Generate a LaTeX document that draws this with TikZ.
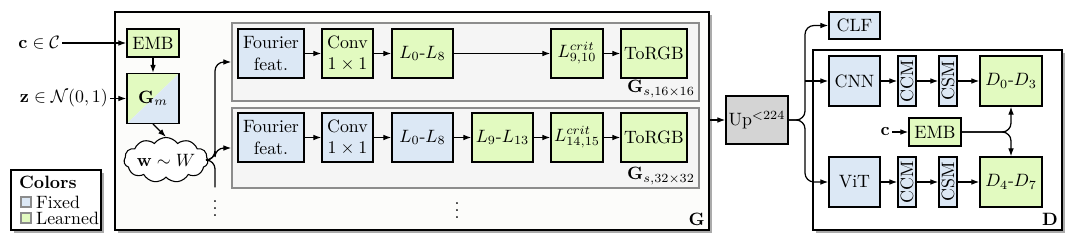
\documentclass[tikz,border=0pt]{standalone}
\usetikzlibrary{arrows.meta,shapes.symbols,shadows,calc}
\definecolor{fixedc}{RGB}{220,232,245}
\definecolor{learnc}{RGB}{226,250,192}
\definecolor{upc}{RGB}{212,212,212}
\definecolor{grpc}{RGB}{245,245,245}
\definecolor{gbg}{RGB}{252,252,250}
\begin{document}
\begin{tikzpicture}[x=0.56pt,y=-0.56pt,
  wh/.style 2 args={minimum width=#1*0.56pt,minimum height=#2*0.56pt},
  blk/.style={draw,line width=0.7pt,inner sep=0pt,align=center},
  fx/.style={blk,fill=fixedc},
  ln/.style={blk,fill=learnc},
  arr/.style={-{Latex[length=4.5pt,width=3.2pt]},line width=0.7pt},
  ln0/.style={line width=0.7pt},
  cont/.style={draw,line width=0.8pt,inner sep=0pt,
    drop shadow={shadow xshift=1.6pt,shadow yshift=-1.6pt,fill=black!60,opacity=0.55}},
  grp/.style={draw=black!45,line width=0.7pt,fill=grpc,inner sep=0pt},
  lbl/.style={inner sep=1pt}]
\useasboundingbox (0,0) rectangle (1072,243);
% ---------- containers
\node[cont,fill=gbg,wh={594}{218}] (Gbox) at (412,121) {};
\node[cont,fill=white,wh={90}{60}] (leg) at (56,200) {};
\node[cont,fill=white,wh={249}{180}] (Dbox) at (937.5,140) {};
\node[grp,wh={467}{78}] (g1) at (465.5,62) {};
\node[grp,wh={467}{80}] (g2) at (465.5,148) {};
% ---------- labels of containers
\node[lbl,anchor=south east] (Glab) at (707,228) {$\mathbf{G}$};
\node[lbl,anchor=south east] (Dlab) at (1060,228) {$\mathbf{D}$};
\node[lbl,anchor=south east] (g1lab) at (697,100) {$\mathbf{G}_{s,16\times16}$};
\node[lbl,anchor=south east] (g2lab) at (697,187) {$\mathbf{G}_{s,32\times32}$};
% ---------- legend
\node[lbl,anchor=west] (legt) at (17,182) {\textbf{Colors}};
\node[draw=black!45,line width=0.6pt,fill=fixedc,wh={10}{10},inner sep=0pt] (lsq1) at (26,202) {};
\node[draw=black!45,line width=0.6pt,fill=learnc,wh={10}{10},inner sep=0pt] (lsq2) at (26,218) {};
\node[lbl,anchor=west] (lt1) at (34,202) {Fixed};
\node[lbl,anchor=west] (lt2) at (34,218) {Learned};
% ---------- mapping network
\node[lbl,anchor=east] (cl) at (62,43) {$\mathbf{c}\in\mathcal{C}$};
\node[lbl,anchor=east] (zl) at (110,98.5) {$\mathbf{z}\in\mathcal{N}(0,1)$};
\node[ln,wh={52}{28}] (emb) at (153,43) {EMB};
\node[blk,wh={52}{50},path picture={
  \fill[learnc] (path picture bounding box.north west) -- (path picture bounding box.north east) -- (path picture bounding box.south west) -- cycle;
  \fill[fixedc] (path picture bounding box.south west) -- (path picture bounding box.north east) -- (path picture bounding box.south east) -- cycle;}] (Gm) at (153,98.5) {$\mathbf{G}_m$};
\node[cloud,draw,line width=0.6pt,fill=white,cloud puffs=11,cloud puff arc=110,aspect=2.4,inner sep=0pt,wh={78}{34}] (w) at (166,160) {$\mathbf{w}\sim W$};
\draw[arr] (cl.east) -- (emb.west);
\draw[arr] (zl.east) -- (Gm.west);
\draw[arr] (emb.south) -- (Gm.north);
\draw[arr] (Gm.south) -- (w.north);
\coordinate (br) at (215,0);
\node[lbl] (dots1) at (215,203) {$\vdots$};
\node[lbl] (dots2) at (457,205) {$\vdots$};
\draw[arr,rounded corners=5pt] (w.east) -- (w.east -| br) |- (g1.west);
\draw[arr,rounded corners=5pt] (w.east) -- (w.east -| br) |- (g2.west);
\draw[ln0,rounded corners=5pt] (w.east) -- (w.east -| br) -- (dots1.north -| br);
% ---------- row 1
\node[fx,wh={66}{49}] (f1) at (271,53.5) {Fourier\\feat.};
\node[ln,wh={51}{49}] (cv1) at (347.5,53.5) {Conv\\$1\times1$};
\node[ln,wh={61}{49}] (l1) at (422.5,53.5) {$L_0$-$L_8$};
\node[ln,wh={52}{49}] (lc1) at (577,53.5) {$L^{crit}_{9,10}$};
\node[ln,wh={66}{49}] (rgb1) at (654,53.5) {ToRGB};
\draw[arr] (f1) -- (cv1);
\draw[arr] (cv1) -- (l1);
\draw[arr] (l1) -- (lc1);
\draw[arr] (lc1) -- (rgb1);
% ---------- row 2
\node[fx,wh={66}{49}] (f2) at (271,137.5) {Fourier\\feat.};
\node[fx,wh={51}{49}] (cv2) at (347.5,137.5) {Conv\\$1\times1$};
\node[fx,wh={61}{49}] (l2) at (422.5,137.5) {$L_0$-$L_8$};
\node[ln,wh={61}{49}] (l2b) at (502.5,137.5) {$L_9$-$L_{13}$};
\node[ln,wh={52}{49}] (lc2) at (577,137.5) {$L^{crit}_{14,15}$};
\node[ln,wh={66}{49}] (rgb2) at (654,137.5) {ToRGB};
\draw[arr] (f2) -- (cv2);
\draw[arr] (cv2) -- (l2);
\draw[arr] (l2) -- (l2b);
\draw[arr] (l2b) -- (lc2);
\draw[arr] (lc2) -- (rgb2);
% ---------- upsampling
\node[blk,fill=upc,wh={62}{48}] (up) at (757,120) {Up$^{<224}$};
\draw[arr] (Gbox.east |- up.west) -- (up.west);
% ---------- discriminator
\node[fx,wh={51}{27}] (clf) at (854.5,25.5) {CLF};
\node[fx,wh={51}{50}] (cnn) at (854.5,81) {CNN};
\node[fx,wh={18}{50}] (ccm1) at (907,81) {\rotatebox{90}{CCM}};
\node[fx,wh={18}{50}] (csm1) at (948,81) {\rotatebox{90}{CSM}};
\node[ln,wh={62}{50}] (d03) at (1011,81) {$D_0$-$D_3$};
\node[fx,wh={51}{50}] (vit) at (854.5,182) {ViT};
\node[fx,wh={18}{50}] (ccm2) at (907,182) {\rotatebox{90}{CCM}};
\node[fx,wh={18}{50}] (csm2) at (948,182) {\rotatebox{90}{CSM}};
\node[ln,wh={62}{50}] (d47) at (1011,182) {$D_4$-$D_7$};
\node[ln,wh={52}{28}] (emb2) at (935,132) {EMB};
\node[lbl,anchor=east] (c2) at (892,132) {$\mathbf{c}$};
\coordinate (vb) at (805,0);
\draw[arr,rounded corners=5pt] (up.east) -- (up.east -| vb) |- (clf.west);
\draw[arr,rounded corners=5pt] (up.east) -- (up.east -| vb) |- (vit.west);
\draw[arr] (cnn.west -| vb) -- (cnn.west);
\draw[arr] (cnn) -- (ccm1);
\draw[arr] (ccm1) -- (csm1);
\draw[arr] (csm1) -- (d03);
\draw[arr] (vit) -- (ccm2);
\draw[arr] (ccm2) -- (csm2);
\draw[arr] (csm2) -- (d47);
\draw[arr] (c2.east) -- (emb2.west);
\draw[arr,rounded corners=5pt] (emb2.east) -| (d03.south);
\draw[arr,rounded corners=5pt] (emb2.east) -| (d47.north);
\end{tikzpicture}
\end{document}
